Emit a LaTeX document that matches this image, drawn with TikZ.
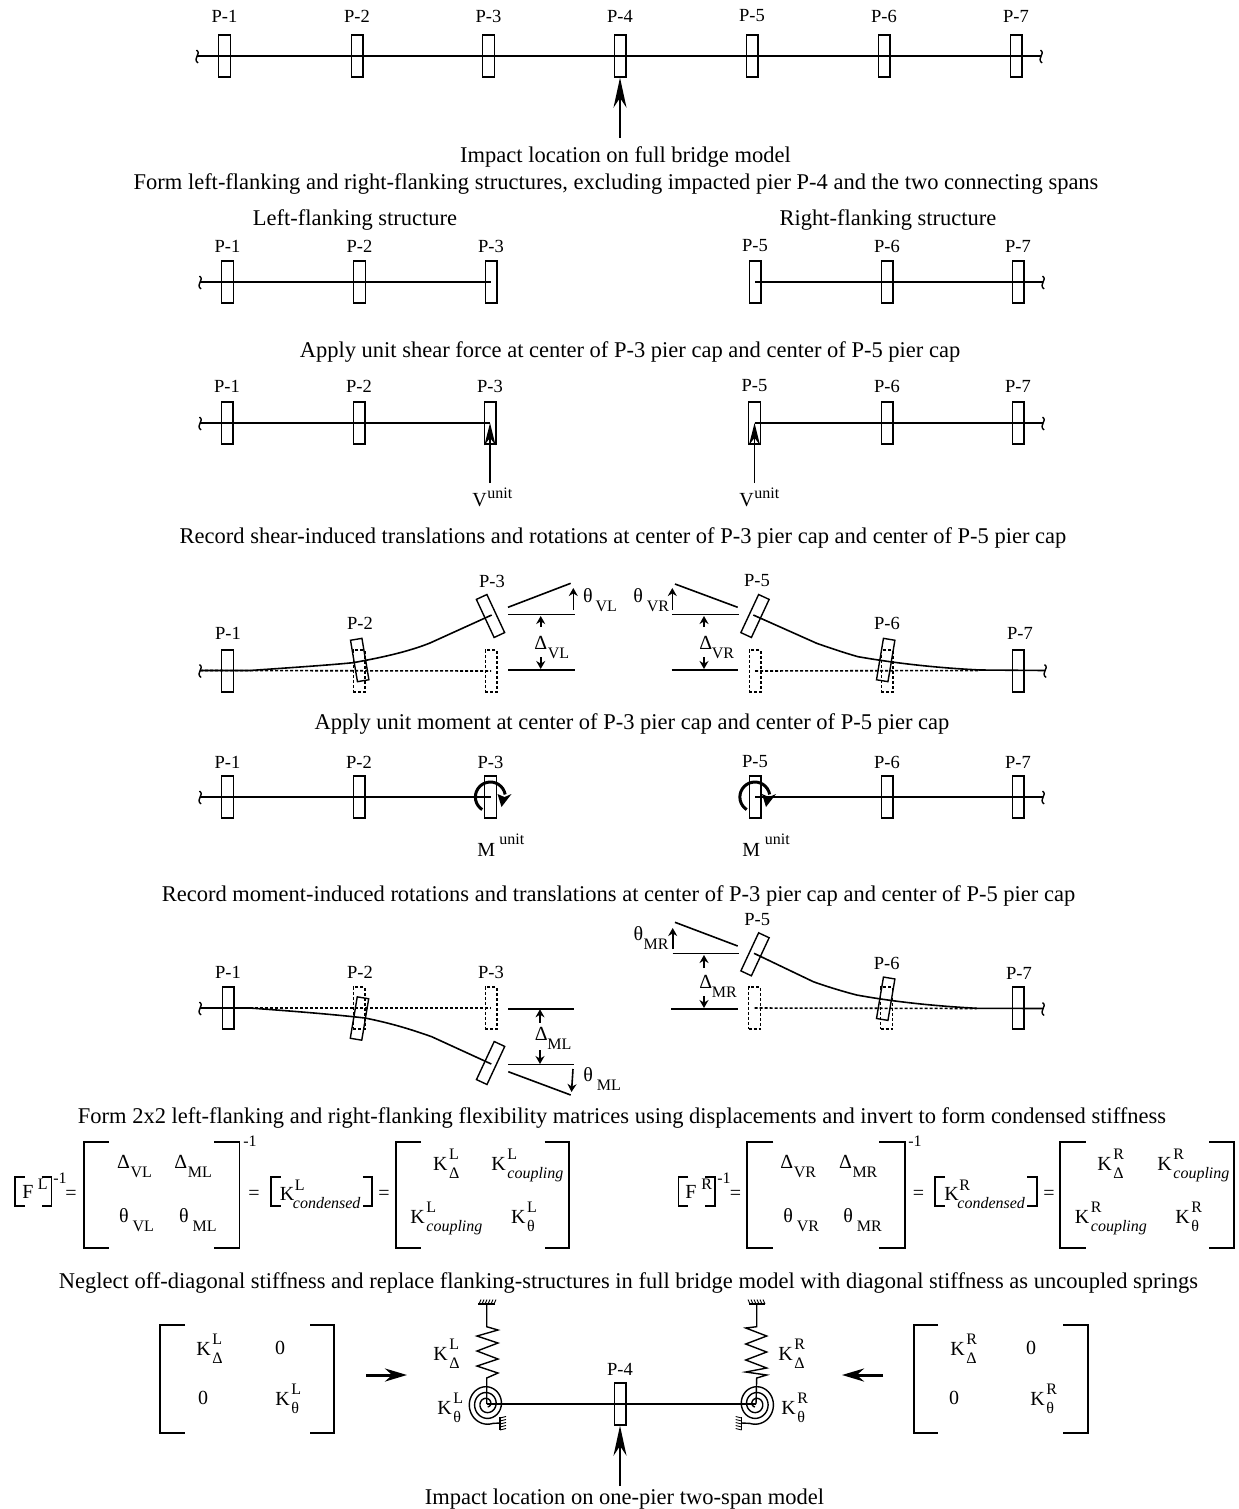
\documentclass[tikz,border=0pt]{standalone}
\usepackage{fontspec}
\setmainfont{Liberation Serif}
\usepackage{tikz}
\usetikzlibrary{arrows.meta,calc}

\tikzset{
    headline/.style={inner sep=0pt, yshift=-0.9pt, font=\fontsize{11.25}{13}\selectfont},
    plab/.style={inner sep=0pt, yshift=-0.5pt, font=\fontsize{9.25}{11}\selectfont},
    txt/.style={inner sep=0pt, font=\fontsize{10}{12}\selectfont},
    smalltxt/.style={inner sep=0pt, font=\fontsize{8}{10}\selectfont},
    pier/.style={draw, line width=0.7pt, rectangle, inner sep=0pt, minimum width=5.8pt, minimum height=21pt},
    ghost/.style={pier, dash pattern=on 1.5pt off 1pt},
    beam/.style={line width=0.8pt},
    ghostbeam/.style={beam, dash pattern=on 1.5pt off 1pt},
    bigarrow/.style={line width=0.8pt, -{Stealth[length=15pt,width=6.5pt]}},
    midarrow/.style={line width=0.9pt, -{Stealth[length=11pt,width=5.5pt]}},
    tinyarrow/.style={line width=0.8pt, -{Stealth[length=4pt,width=4.5pt]}},
    brk/.style={line width=0.9pt},
    boldarrow/.style={line width=1.5pt, -{Stealth[length=11pt,width=6.5pt]}},
    springline/.style={line width=0.7pt},
    hatch/.style={line width=0.45pt},
}

% squiggle at the cut end of the deck
\newcommand{\squig}[2]{\draw[line width=0.7pt] (#1-0.5,#2-6) .. controls (#1+5,#2-2) and (#1-5,#2+2) .. (#1+1,#2+7);}
% K with upper and lower index, given by left end and baseline of the K
\newcommand{\kterm}[5]{
    \node[txt, anchor=base west] (#1) at (#2,#3) {K};
    \node[smalltxt, anchor=base west] (#1 up) at (#2+16,#3-11) {#4};
    \node[smalltxt, anchor=base west] (#1 lo) at (#2+16,#3+8) {#5};
}
% symbol with lower index
\newcommand{\dsym}[6][13.5]{
    \node[txt, anchor=base west] (#2) at (#3,#4) {#5};
    \node[smalltxt, anchor=base west] (#2 lo) at (#3+#1,#4+9.5) {#6};
}
% pair of brackets: outer left, tick left, tick right, outer right, top, bottom
\newcommand{\brackets}[6]{
    \draw[brk] (#2,#5) -- (#1,#5) -- (#1,#6) -- (#2,#6);
    \draw[brk] (#3,#5) -- (#4,#5) -- (#4,#6) -- (#3,#6);
}

\begin{document}
\begin{tikzpicture}[x=0.5pt, y=-0.5pt]
    \useasboundingbox (0,0) rectangle (1238,1509);

    % Full bridge model
    \foreach \x [count=\i] in {224.5, 357, 488.5, 620, 752, 884, 1016} {
        \node[pier] (a\i) at (\x,56) {};
        \node[plab] (alab\i) at (\x,15) {P-\i};
    }
    \coordinate (a0) at (197,56);
    \coordinate (a8) at (1041,56);
    \coordinate (impacta) at (620,138);
    \draw[line width=1pt] (a0) -- (a8);
    \squig{197}{56}
    \squig{1041}{56}
    \draw[bigarrow] (impacta) -- (a4.south);
    \node[headline] (impacttxt) at (625.5,155) {Impact location on full bridge model};
    \node[headline] (formtxt) at (616,182) {Form left-flanking and right-flanking structures, excluding impacted pier P-4 and the two connecting spans};
    \node[headline] (lefttxt) at (355,218) {Left-flanking structure};
    \node[headline] (righttxt) at (888,218) {Right-flanking structure};

    % Flanking structures
    \foreach \x/\n in {227.5/1, 359.5/2, 491/3, 755/5, 887/6, 1018/7} {
        \node[pier] (b\n) at (\x,282) {};
        \node[plab] (blab\n) at (\x,245) {P-\n};
    }
    \coordinate (b0) at (200,282);
    \coordinate (b8) at (1043,282);
    \draw[beam] (b0) -- (b3.center);
    \draw[beam] (b5.center) -- (b8);
    \squig{200}{282}
    \squig{1043}{282}

    % Unit shear
    \node[headline] (sheartxt) at (630,350) {Apply unit shear force at center of P-3 pier cap and center of P-5 pier cap};
    \foreach \x/\n in {227/1, 359/2, 490/3, 754.5/5, 887/6, 1018/7} {
        \node[pier] (c\n) at (\x,423) {};
        \node[plab] (clab\n) at (\x,385) {P-\n};
    }
    \coordinate (c0) at (200,423);
    \coordinate (c8) at (1043,423);
    \draw[beam] (c0) -- (c3.center);
    \draw[beam] (c5.center) -- (c8);
    \squig{200}{423}
    \squig{1043}{423}
    \coordinate (va) at (490,483);
    \coordinate (vb) at (754.5,483);
    \draw[midarrow] (va) -- (c3.center);
    \draw[midarrow] (vb) -- (c5.center);
    \node[txt, anchor=base west] (vtxta) at (472,506) {V};
    \node[smalltxt, anchor=base west] (vupa) at (487,498) {unit};
    \node[txt, anchor=base west] (vtxtb) at (739,506) {V};
    \node[smalltxt, anchor=base west] (vupb) at (754,498) {unit};

    % Shear deformed shape
    \node[headline] (recshear) at (623,536) {Record shear-induced translations and rotations at center of P-3 pier cap and center of P-5 pier cap};
    \node[pier] (d1) at (227.5,671) {};
    \node[ghost] (d2) at (359,671) {};
    \node[ghost] (d3) at (491,671) {};
    \node[ghost] (d5) at (755,671) {};
    \node[ghost] (d6) at (887,671) {};
    \node[pier] (d7) at (1018,671) {};
    \node[pier, rotate=9.5] (d2s) at (359.7,660) {};
    \node[pier, rotate=25] (d3s) at (490.5,616) {};
    \node[pier, rotate=-25] (d5s) at (755,616) {};
    \node[pier, rotate=-9.5] (d6s) at (885.7,660) {};
    \node[plab] (dlab1) at (228,632) {P-1};
    \node[plab] (dlab2) at (360,622) {P-2};
    \node[plab] (dlab3) at (492,580) {P-3};
    \node[plab] (dlab5) at (757,580) {P-5};
    \node[plab] (dlab6) at (887,622) {P-6};
    \node[plab] (dlab7) at (1020,632) {P-7};
    \coordinate (d0) at (200,670.5);
    \coordinate (d8) at (1045,670.5);
    \draw[beam] (d0) -- (250,670.5) .. controls (300,667) and (330,665) .. (353,662.7) .. controls (385,657) and (410,651) .. (430,643) -- (491.7,615);
    \draw[beam] (753.3,615) -- (816.7,643.3) .. controls (830,648) and (845,653) .. (858,656.7) .. controls (900,664) and (940,668) .. (980,670) -- (d8);
    \draw[ghostbeam] (d0) -- (d3.center);
    \draw[ghostbeam] (d5.center) -- (980,670.5);
    \squig{200}{670.5}
    \squig{1045}{670.5}
    % left measures
    \draw[beam] (508,607.3) -- (570.7,583.3);
    \draw[beam] (508,614.3) -- (575,614.3);
    \draw[beam] (508,670) -- (575,670);
    \draw[tinyarrow] (573.3,610) -- (573.3,588);
    \draw[tinyarrow] (540.7,627) -- (540.7,616);
    \draw[tinyarrow] (540.7,657) -- (540.7,669);
    \dsym[12.5]{thvl}{582.7}{602}{θ}{VL}
    \dsym{dvl}{534}{649}{Δ}{VL}
    % right measures
    \draw[beam] (675,584) -- (737.7,607.3);
    \draw[beam] (672,614.3) -- (739,614.3);
    \draw[beam] (671.7,670) -- (738.3,670);
    \draw[tinyarrow] (672.3,610) -- (672.3,588);
    \draw[tinyarrow] (704,627) -- (704,616);
    \draw[tinyarrow] (704,657) -- (704,669);
    \dsym{thvr}{633}{602}{θ}{VR}
    \dsym[12.5]{dvr}{699}{649}{Δ}{VR}

    % Unit moment
    \node[headline] (momenttxt) at (632,722) {Apply unit moment at center of P-3 pier cap and center of P-5 pier cap};
    \foreach \x/\n in {227.5/1, 359/2, 490.5/3, 755/5, 887/6, 1018/7} {
        \node[pier] (e\n) at (\x,797) {};
        \node[plab] (elab\n) at (\x,761) {P-\n};
    }
    \coordinate (e0) at (200,797);
    \coordinate (e8) at (1043,797);
    \draw[beam] (e0) -- (e3.center);
    \draw[beam] (e5.center) -- (e8);
    \squig{200}{797}
    \squig{1043}{797}
    \foreach \n in {3,5} {
        \draw[line width=1.5pt] ($(e\n.center)+(-8.3,12.6)$) arc[start angle=237, end angle=10, radius=7.5pt];
        \fill ($(e\n.center)+(11,10)$) -- ($(e\n.center)+(21,-3)$) -- ($(e\n.center)+(14,0)$) -- ($(e\n.center)+(7,-3)$) -- cycle;
    }
    \node[txt, anchor=base west] (mtxta) at (477,856) {M};
    \node[smalltxt, anchor=base west] (mupa) at (499,844) {unit};
    \node[txt, anchor=base west] (mtxtb) at (742,856) {M};
    \node[smalltxt, anchor=base west] (mupb) at (764.5,844) {unit};

    % Moment deformed shape
    \node[headline] (recmoment) at (618.5,894) {Record moment-induced rotations and translations at center of P-3 pier cap and center of P-5 pier cap};
    \node[pier] (f1) at (228,1008) {};
    \node[ghost] (f2) at (359,1008) {};
    \node[ghost] (f3) at (491,1008) {};
    \node[ghost] (f5) at (754.5,1008) {};
    \node[ghost] (f6) at (886.5,1008) {};
    \node[pier] (f7) at (1018,1008) {};
    \node[pier, rotate=-9.5] (f2s) at (359.5,1018.5) {};
    \node[pier, rotate=-25] (f3s) at (490.6,1063) {};
    \node[pier, rotate=-25] (f5s) at (755,954.3) {};
    \node[pier, rotate=-9.5] (f6s) at (885.7,998.7) {};
    \node[plab] (flab1) at (228,971) {P-1};
    \node[plab] (flab2) at (360,971) {P-2};
    \node[plab] (flab3) at (491,971) {P-3};
    \node[plab] (flab5) at (757.3,919) {P-5};
    \node[plab] (flab6) at (886.7,962) {P-6};
    \node[plab] (flab7) at (1019,972) {P-7};
    \coordinate (f0) at (200,1008);
    \coordinate (f8) at (1043,1008.5);
    \draw[beam] (f0) -- (250,1008) .. controls (290,1011) and (330,1014) .. (365,1018) .. controls (390,1023) and (410,1029) .. (431.7,1036.7) -- (491.3,1064);
    \draw[beam] (754,953.3) -- (813.3,981.7) .. controls (828,987) and (845,992) .. (856.7,995) .. controls (895,1002) and (935,1006) .. (976.7,1008.3) -- (f8);
    \draw[ghostbeam] (f0) -- (f3.center);
    \draw[ghostbeam] (f5.center) -- (976.7,1008.5);
    \squig{200}{1008}
    \squig{1043}{1008.5}
    % left measures
    \draw[beam] (508.3,1008.7) -- (574.3,1008.7);
    \draw[beam] (508,1064.3) -- (574,1064.3);
    \draw[beam] (508.3,1071.7) -- (570.7,1095);
    \draw[tinyarrow] (573,1069) -- (571.5,1092);
    \draw[tinyarrow] (540,1022.7) -- (540,1009.3);
    \draw[tinyarrow] (540,1050) -- (540,1064);
    \dsym[12.5]{dml}{534.5}{1040}{Δ}{ML}
    \dsym{thml}{583}{1081}{θ}{ML}
    % right measures
    \draw[beam] (675,922.3) -- (737.7,946);
    \draw[beam] (672.7,953.3) -- (739,953.3);
    \draw[beam] (671,1008.7) -- (738.3,1008.7);
    \draw[tinyarrow] (672.7,949) -- (672.7,928);
    \draw[tinyarrow] (704,968) -- (704,955);
    \draw[tinyarrow] (704,996) -- (704,1008);
    \dsym[10]{thmr}{633.3}{940}{θ}{MR}
    \dsym[12.5]{dmr}{699}{988}{Δ}{MR}

    % Flexibility and stiffness, left
    \node[headline] (flextxt) at (622,1116) {Form 2x2 left-flanking and right-flanking flexibility matrices using displacements and invert to form condensed stiffness};
    \brackets{14.6}{24.5}{41.5}{51.4}{1177}{1206}
    \node[txt, anchor=base west] (fl) at (22,1198) {F};
    \node[smalltxt, anchor=base west] (flup) at (37.5,1189) {L};
    \node[smalltxt, anchor=base west] (flinv) at (53,1183) {-1};
    \node[txt] (eqa) at (71,1195) {=};
    \brackets{84}{108.7}{214}{239.5}{1142}{1248}
    \node[smalltxt, anchor=base west] (flinvb) at (243,1146) {-1};
    \dsym{mdvl}{116.6}{1168}{Δ}{VL}
    \dsym{mdml}{174}{1168}{Δ}{ML}
    \dsym{mtvl}{118.6}{1222}{θ}{VL}
    \dsym{mtml}{178.7}{1222}{θ}{ML}
    \node[txt] (eqb) at (254,1195) {=};
    \brackets{270.8}{280.6}{362.8}{372.3}{1177}{1206}
    \node[txt, anchor=base west] (kcl) at (279.4,1200) {K};
    \node[smalltxt, anchor=base west] (kclup) at (294.5,1190) {L};
    \node[smalltxt, anchor=base west, font=\fontsize{8}{10}\selectfont\itshape] (kcllo) at (292.5,1208) {condensed};
    \node[txt] (eqc) at (384,1195) {=};
    \brackets{396}{421}{544.7}{569}{1142}{1248}
    \kterm{kdl}{432.8}{1170}{L}{Δ}
    \kterm{kcpla}{491}{1170}{L}{\itshape coupling}
    \kterm{kcplb}{410}{1223}{L}{\itshape coupling}
    \kterm{ktl}{510.7}{1223}{L}{θ}

    % Flexibility and stiffness, right
    \brackets{678.5}{688}{705}{714.9}{1177}{1206}
    \node[txt, anchor=base west] (fr) at (685,1198) {F};
    \node[smalltxt, anchor=base west] (frup) at (701,1189) {R};
    \node[smalltxt, anchor=base west] (frinv) at (717,1183) {-1};
    \node[txt] (eqd) at (735.4,1195) {=};
    \brackets{747.3}{773.4}{879}{904.6}{1142}{1248}
    \node[smalltxt, anchor=base west] (frinvb) at (908,1146) {-1};
    \dsym{mdvr}{780}{1168}{Δ}{VR}
    \dsym{mdmr}{838.6}{1168}{Δ}{MR}
    \dsym{mtvr}{783}{1222}{θ}{VR}
    \dsym{mtmr}{843}{1222}{θ}{MR}
    \node[txt] (eqe) at (918.4,1195) {=};
    \brackets{935}{945}{1027}{1037}{1177}{1206}
    \node[txt, anchor=base west] (kcr) at (944,1200) {K};
    \node[smalltxt, anchor=base west] (kcrup) at (959,1190) {R};
    \node[smalltxt, anchor=base west, font=\fontsize{8}{10}\selectfont\itshape] (kcrlo) at (957,1208) {condensed};
    \node[txt] (eqf) at (1049,1195) {=};
    \brackets{1060}{1085.6}{1209}{1234}{1142}{1248}
    \kterm{kdr}{1097}{1170}{R}{Δ}
    \kterm{kcpra}{1157}{1170}{R}{\itshape coupling}
    \kterm{kcprb}{1074.5}{1223}{R}{\itshape coupling}
    \kterm{ktr}{1175}{1223}{R}{θ}

    % Uncoupled springs
    \node[headline] (neglecttxt) at (628.5,1281) {Neglect off-diagonal stiffness and replace flanking-structures in full bridge model with diagonal stiffness as uncoupled springs};
    \brackets{160}{185}{310}{334}{1325}{1433}
    \kterm{sdl}{196}{1355}{L}{Δ}
    \node[txt] (zla) at (280,1348) {0};
    \node[txt] (zlb) at (203,1398) {0};
    \kterm{stl}{275}{1405}{L}{θ}
    \brackets{914}{938}{1063}{1088}{1325}{1433}
    \kterm{sdr}{950}{1355}{R}{Δ}
    \node[txt] (zra) at (1031,1348) {0};
    \node[txt] (zrb) at (954,1398) {0};
    \kterm{str}{1030}{1405}{R}{θ}
    \coordinate (ala) at (366,1375);
    \coordinate (alb) at (407,1375);
    \coordinate (ara) at (883,1375);
    \coordinate (arb) at (842,1375);
    \draw[boldarrow] (ala) -- (alb);
    \draw[boldarrow] (ara) -- (arb);

    % One-pier model
    \node[pier] (g4) at (620,1404) {};
    \node[plab] (glab4) at (620,1368) {P-4};
    \coordinate (cl) at (486.7,1404);
    \coordinate (cr) at (756,1404);
    \draw[beam] (cl) -- (cr);
    \coordinate (impactb) at (620,1486);
    \draw[bigarrow] (impactb) -- (g4.south);
    \node[headline] (impactone) at (624.5,1497) {Impact location on one-pier two-span model};

    % left springs
    \draw[springline] (486.7,1304) -- (486.7,1326.7) -- (498,1330) -- (477,1336) -- (498,1343) -- (477,1351) -- (498,1359) -- (477,1366) -- (498,1373) -- (486.7,1378) -- (cl);
    \draw[springline] (478,1304) -- (495,1304);
    \foreach \x in {479, 482, ..., 494} \draw[hatch] (\x,1304) -- (\x+2,1299.5);
    \draw[springline] plot[domain=0:1, samples=200] ({486.7+(3+16*\x)*cos(1150-1080*\x)}, {1404+(3+17.5*\x)*sin(1150-1080*\x)}) -- (500,1423);
    \draw[springline] (500,1417) -- (500,1430);
    \foreach \y in {1418, 1421, ..., 1431} \draw[hatch] (500,\y) -- (506,\y-1.5);
    \kterm{kdbl}{433}{1360}{L}{Δ}
    \kterm{ktbl}{437}{1414}{L}{θ}

    % right springs
    \draw[springline] (756.7,1304) -- (756.7,1326.7) -- (745.7,1328) -- (766.7,1336) -- (745.7,1344) -- (766.7,1352) -- (745.7,1360) -- (766.7,1368) -- (745.7,1372) -- (766.7,1375) -- (756.7,1378) -- (cr);
    \draw[springline] (749,1304) -- (765,1304);
    \foreach \x in {750, 753, ..., 765} \draw[hatch] (\x,1304) -- (\x-2,1299.5);
    \draw[springline] plot[domain=0:1, samples=200] ({756-(3+16*\x)*cos(1150-1080*\x)}, {1404+(3+17.5*\x)*sin(1150-1080*\x)}) -- (741.7,1423);
    \draw[springline] (741.7,1417) -- (741.7,1430);
    \foreach \y in {1418, 1421, ..., 1431} \draw[hatch] (741.7,\y) -- (735.7,\y-1.5);
    \kterm{kdbr}{778}{1360}{R}{Δ}
    \kterm{ktbr}{781}{1414}{R}{θ}
\end{tikzpicture}
\end{document}
